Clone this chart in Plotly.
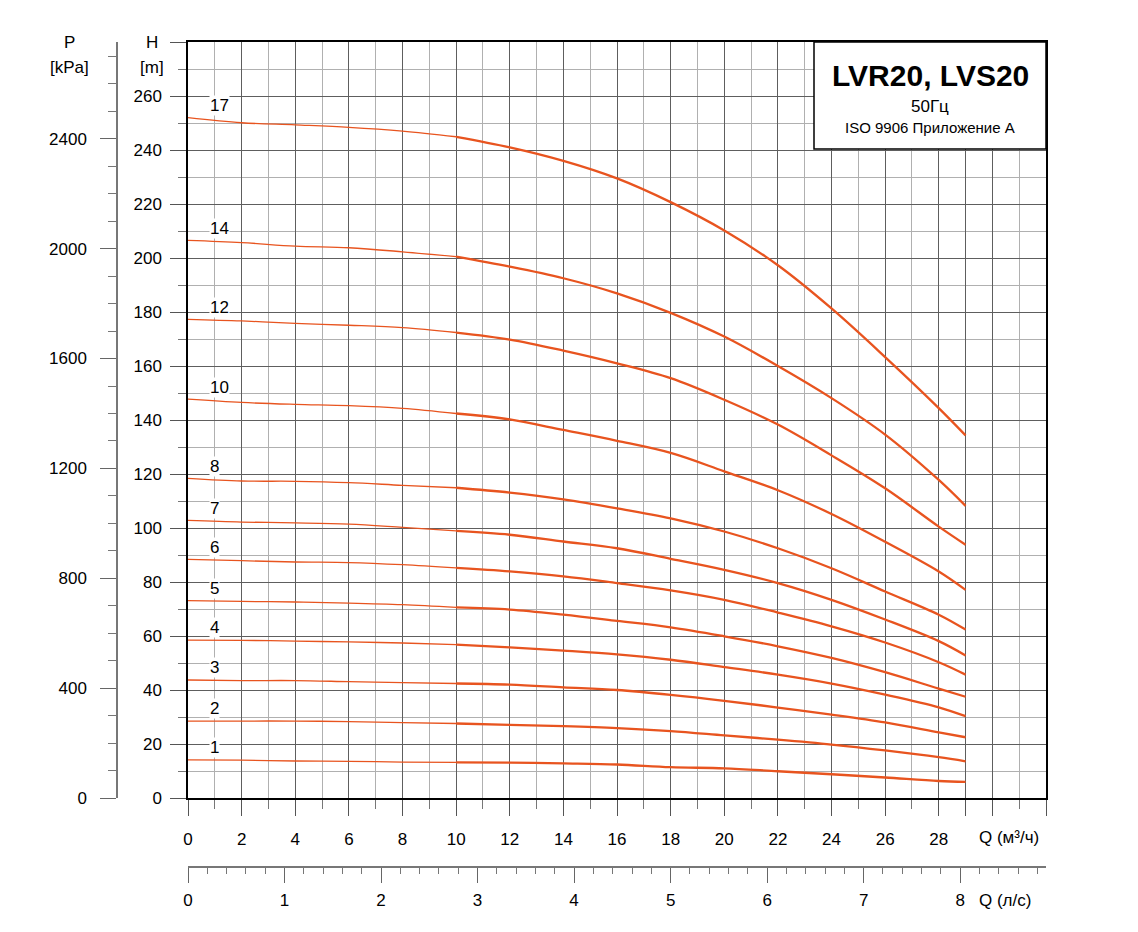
import plotly.graph_objects as go

# подача, м3/ч
Q = [0, 2, 4, 6, 8, 10, 12, 14, 16, 18, 20, 22, 24, 26, 28, 29]

# напор по числу ступеней, м
H_17 = [252.0, 250.1, 249.3, 248.4, 247.0, 244.9, 241.0, 236.0, 229.5, 220.7, 210.2, 197.3, 181.3, 163.3, 144.4, 134.3]
H_14 = [206.5, 205.7, 204.4, 203.8, 202.3, 200.5, 196.8, 192.5, 186.9, 179.7, 170.9, 160.0, 148.1, 134.6, 117.8, 108.2]
H_12 = [177.3, 176.7, 175.8, 175.1, 174.2, 172.4, 169.8, 165.7, 161.0, 155.5, 147.5, 138.3, 126.9, 114.7, 100.5, 93.8]
H_10 = [147.7, 146.5, 145.8, 145.3, 144.3, 142.4, 140.2, 136.3, 132.3, 127.8, 121.0, 114.0, 105.2, 94.9, 83.9, 77.1]
H_8 = [118.4, 117.4, 117.3, 116.8, 115.8, 114.9, 113.1, 110.6, 107.3, 103.6, 98.7, 92.5, 85.1, 76.5, 67.9, 62.4]
H_7 = [102.8, 102.2, 101.9, 101.4, 100.2, 98.9, 97.5, 95.0, 92.5, 88.6, 84.5, 79.6, 73.4, 66.1, 58.1, 52.8]
H_6 = [88.4, 87.9, 87.4, 87.2, 86.4, 85.2, 83.9, 82.1, 79.6, 76.9, 73.4, 68.7, 63.6, 57.6, 50.3, 45.7]
H_5 = [73.1, 72.8, 72.6, 72.2, 71.6, 70.6, 69.8, 67.9, 65.6, 63.2, 59.9, 56.2, 51.9, 46.6, 40.5, 37.5]
H_4 = [58.5, 58.4, 58.1, 57.8, 57.4, 56.8, 55.8, 54.6, 53.2, 51.2, 48.5, 45.7, 42.4, 38.3, 33.6, 30.3]
H_3 = [43.7, 43.5, 43.5, 43.1, 42.7, 42.4, 42.0, 41.0, 40.0, 38.2, 36.0, 33.5, 30.9, 28.0, 24.3, 22.5]
H_2 = [28.5, 28.5, 28.5, 28.3, 27.9, 27.6, 27.1, 26.6, 25.9, 24.8, 23.2, 21.6, 19.8, 17.6, 15.1, 13.6]
H_1 = [14.1, 14.0, 13.7, 13.6, 13.3, 13.2, 13.1, 12.8, 12.4, 11.4, 11.0, 9.9, 8.8, 7.6, 6.3, 6.0]

STAGES = ['17', '14', '12', '10', '8', '7', '6', '5', '4', '3', '2', '1']
CURVES = [H_17, H_14, H_12, H_10, H_8, H_7, H_6, H_5, H_4, H_3, H_2, H_1]

Q_TICKS = [0, 2, 4, 6, 8, 10, 12, 14, 16, 18, 20, 22, 24, 26, 28]
H_TICKS = [0, 20, 40, 60, 80, 100, 120, 140, 160, 180, 200, 220, 240, 260]
P_TICKS = [0, 400, 800, 1200, 1600, 2000, 2400]
QLS_TICKS = [0, 1, 2, 3, 4, 5, 6, 7, 8]

FONT = 'Liberation Sans, Arial, sans-serif'
ORANGE = '#E8541F'
KPA_PER_M = 9.83
M3H_PER_LS = 3.6

# страница со стандартным отступом body 8px
W, H = 1122, 916
ML, MR, MT, MB = 109, 84, 34, 57
PW = W - ML - MR
PH = H - MT - MB


def px(x):
    # экранная x -> paper
    return (x - 8 - ML) / PW


def py(y):
    return (H - MB - (y - 8)) / PH


X0 = px(188)
Y0 = py(798)

fig = go.Figure()

split = Q.index(10)
for name, h in zip(STAGES, CURVES):
    fig.add_trace(go.Scatter(x=Q[:split + 1], y=h[:split + 1], mode='lines', line_shape='spline',
                             line=dict(color=ORANGE, width=1.3), hoverinfo='skip', showlegend=False))
    fig.add_trace(go.Scatter(x=Q[split:], y=h[split:], mode='lines', line_shape='spline',
                             line=dict(color=ORANGE, width=2.3), name=name, showlegend=False))
    fig.add_annotation(x=0.8, y=h[0] + 4.5, text=name, showarrow=False, xanchor='left', yanchor='middle',
                       bgcolor='white', borderpad=0, font=dict(size=17, color='black', family=FONT))

# пустая серия, чтобы оси P и Q(л/с) отрисовались
fig.add_trace(go.Scatter(x=[0], y=[0], xaxis='x2', yaxis='y2', mode='markers',
                         marker=dict(opacity=0), hoverinfo='skip', showlegend=False))

axis_font = dict(size=17, color='black', family=FONT)

fig.update_layout(
    width=W, height=H,
    margin=dict(l=ML, r=MR, t=MT, b=MB, autoexpand=False),
    plot_bgcolor='white', paper_bgcolor='white',
    showlegend=False,
    font=dict(family=FONT, color='black'),
    xaxis=dict(domain=[X0, 1], range=[0, 32], tickmode='array',
               tickvals=Q_TICKS + [29, 30, 32], ticktext=[str(v) for v in Q_TICKS] + ['', '', ''],
               ticks='outside', ticklen=16, tickwidth=1.2, tickcolor='#555',
               showgrid=True, gridcolor='#5e5e5e', gridwidth=1,
               showline=True, linecolor='black', linewidth=1.5, mirror=True, zeroline=False,
               tickfont=axis_font, ticklabelstandoff=9,
               minor=dict(dtick=1, tick0=0, ticks='outside', ticklen=9, tickcolor='#777',
                          showgrid=True, gridcolor='#b0b0b0', gridwidth=1)),
    yaxis=dict(domain=[Y0, 1], range=[0, 280], tickmode='array',
               tickvals=H_TICKS + [280], ticktext=[str(v) for v in H_TICKS] + [''],
               ticks='outside', ticklen=16, tickwidth=1.2, tickcolor='#555',
               showgrid=True, gridcolor='#5e5e5e', gridwidth=1,
               showline=True, linecolor='black', linewidth=1.5, mirror=True, zeroline=False,
               tickfont=axis_font, ticklabelstandoff=5,
               minor=dict(dtick=10, tick0=0, ticks='outside', ticklen=8, tickcolor='#777',
                          showgrid=True, gridcolor='#b0b0b0', gridwidth=1)),
    xaxis2=dict(overlaying='x', anchor='free', position=0, side='bottom',
                range=[0, 32 / M3H_PER_LS], tickmode='array', tickvals=QLS_TICKS,
                ticktext=[str(v) for v in QLS_TICKS],
                ticks='outside', ticklen=15, tickwidth=1.2, tickcolor='#666',
                showgrid=False, zeroline=False, showline=True, linecolor='#777', linewidth=1.5,
                tickfont=axis_font, ticklabelstandoff=3,
                minor=dict(dtick=0.2, tick0=0, ticks='outside', ticklen=6, tickcolor='#777')),
    yaxis2=dict(overlaying='y', anchor='free', position=0, side='left',
                range=[0, 280 * KPA_PER_M], tickmode='array', tickvals=P_TICKS,
                ticktext=[str(v) for v in P_TICKS],
                ticks='outside', ticklen=16, tickwidth=1.2, tickcolor='#666',
                showgrid=False, zeroline=False, showline=True, linecolor='#777', linewidth=1.5,
                tickfont=axis_font, ticklabelstandoff=10,
                minor=dict(dtick=100, tick0=0, ticks='outside', ticklen=8, tickcolor='#777')),
)

# подписи осей
for text, x, y, anchor in [('P', 69, 42, 'center'), ('[kPa]', 69, 68, 'center'),
                           ('H', 152, 42, 'center'), ('[m]', 152, 68, 'center'),
                           ('Q (м³/ч)', 977, 837, 'left'), ('Q (л/с)', 977, 900, 'left')]:
    fig.add_annotation(xref='paper', yref='paper', x=px(x), y=py(y), text=text, showarrow=False,
                       xanchor=anchor, yanchor='middle', font=dict(size=17, color='black', family=FONT))

# табличка с названием
fig.add_shape(type='rect', xref='paper', yref='paper', x0=px(814), x1=px(1046), y0=py(149), y1=py(42),
              fillcolor='white', line=dict(color='black', width=1.5), layer='above')
for text, y, size in [('<b>LVR20, LVS20</b>', 75, 30), ('50Гц', 107, 17),
                      ('ISO 9906 Приложение А', 127, 15)]:
    fig.add_annotation(xref='paper', yref='paper', x=px(930), y=py(y), text=text, showarrow=False,
                       xanchor='center', yanchor='middle', font=dict(size=size, color='black', family=FONT))

fig.write_html('out.html')
